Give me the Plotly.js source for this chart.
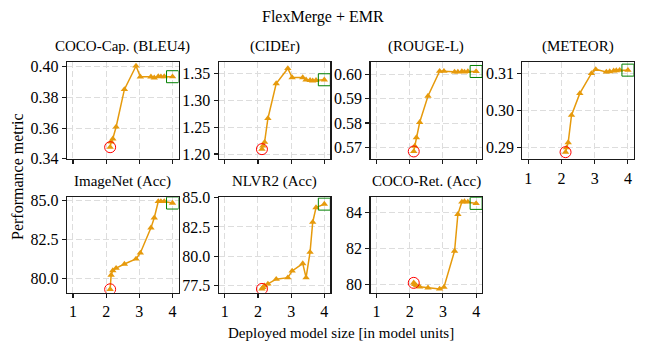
<!DOCTYPE html>
<html>
<head>
<meta charset="utf-8">
<script src="https://cdn.plot.ly/plotly-3.0.1.min.js"></script>
<style>
  html, body { margin: 0; padding: 0; background: #fff; }
  #chart { width: 646px; height: 354px; }
</style>
</head>
<body>
<div id="chart"></div>
<script>
// deployed model size (model units)
var modelSize = [2.12, 2.15, 2.2, 2.3, 2.55, 2.9, 3.03, 3.35, 3.45, 3.57, 3.65, 3.75, 4.0];

var bleu4    = [0.3475, 0.351, 0.353, 0.3607, 0.3852, 0.4005, 0.3934, 0.3934, 0.3928, 0.3937, 0.3935, 0.3936, 0.3935];
var cider    = [1.209, 1.215, 1.222, 1.266, 1.331, 1.359, 1.342, 1.342, 1.338, 1.337, 1.336, 1.337, 1.338];
var rougeL   = [0.5683, 0.5705, 0.574, 0.5803, 0.5911, 0.6013, 0.6013, 0.601, 0.601, 0.6012, 0.601, 0.6012, 0.6012];
var meteor   = [0.2888, 0.290, 0.2914, 0.2988, 0.3047, 0.3101, 0.3112, 0.3105, 0.3106, 0.3108, 0.3109, 0.311, 0.311];
var imagenet = [79.29, 80.21, 80.5, 80.65, 80.92, 81.25, 81.63, 83.25, 83.9, 84.95, 84.95, 84.95, 84.85];
var nlvr2    = [77.22, 77.35, 77.5, 77.65, 78.05, 78.18, 78.75, 79.38, 78.18, 80.35, 82.9, 84.15, 84.44];
var cocoRet  = [80.08, 80.0, 79.92, 79.86, 79.8, 79.74, 79.84, 81.86, 83.91, 84.6, 84.62, 84.6, 84.52];

var panelTitles = ['COCO-Cap. (BLEU4)', '(CIDEr)', '(ROUGE-L)', '(METEOR)',
                   'ImageNet (Acc)', 'NLVR2 (Acc)', 'COCO-Ret. (Acc)'];
var xTicks = [1, 2, 3, 4];
var yTicks = [
  [0.34, 0.36, 0.38, 0.40],
  [1.20, 1.25, 1.30, 1.35],
  [0.57, 0.58, 0.59, 0.60],
  [0.29, 0.30, 0.31],
  [80.0, 82.5, 85.0],
  [77.5, 80.0, 82.5, 85.0],
  [80, 82, 84]
];

document.addEventListener('DOMContentLoaded', function() {

  var series = [bleu4, cider, rougeL, meteor, imagenet, nlvr2, cocoRet];
  var yFormats = ['.2f', '.2f', '.2f', '.2f', '.1f', '.1f', 'd'];
  var yRanges = [
    [0.3398, 0.4031], [1.1907, 1.371], [0.5652, 0.6051], [0.28695, 0.3132],
    [79.07, 85.22], [76.9, 85.02], [79.53, 84.86]
  ];

  var W = 646, H = 354;
  var font = "'Liberation Serif', 'Times New Roman', serif";
  var orange = '#E69A0C';

  var data = [];
  var layout = {
    width: W, height: H,
    margin: {l: 0, r: 0, t: 0, b: 0},
    paper_bgcolor: 'white',
    plot_bgcolor: 'white',
    showlegend: false,
    font: {family: font, size: 15, color: '#000'},
    annotations: []
  };

  for (var i = 0; i < series.length; i++) {
    var row = i < 4 ? 0 : 1;
    var col = i < 4 ? i : i - 4;
    var left = 67 + col * 151.8;
    var top = row === 0 ? 62 : 197.3;
    var bottom = row === 0 ? 159 : 292.7;
    var n = i + 1;
    var xa = n === 1 ? 'x' : 'x' + n;
    var ya = n === 1 ? 'y' : 'y' + n;
    var ys = series[i];

    data.push({
      x: modelSize, y: ys, xaxis: xa, yaxis: ya,
      mode: 'lines+markers',
      line: {color: orange, width: 1.5},
      marker: {symbol: 'triangle-up', size: 6.5, color: orange}
    });
    // first point: red circle
    data.push({
      x: [modelSize[0]], y: [ys[0]], xaxis: xa, yaxis: ya,
      mode: 'markers',
      marker: {symbol: 'circle-open', size: 11, color: 'red', line: {width: 1}}
    });
    // last point: green square
    data.push({
      x: [modelSize[modelSize.length - 1]], y: [ys[ys.length - 1]], xaxis: xa, yaxis: ya,
      mode: 'markers',
      marker: {symbol: 'square-open', size: 12, color: 'green', line: {width: 1}}
    });

    var showXLabels = row === 1 || col === 3;
    var axisCommon = {
      showline: true, mirror: true, linecolor: '#1a1a1a', linewidth: 1.3,
      ticks: 'outside', ticklen: 4, tickwidth: 1.1, tickcolor: '#1a1a1a',
      showgrid: true, gridcolor: '#dddddd', griddash: '6px,3px', gridwidth: 1,
      zeroline: false,
      tickfont: {family: font, size: 16, color: '#000'}
    };

    layout['xaxis' + (n === 1 ? '' : n)] = Object.assign({}, axisCommon, {
      domain: [left / W, (left + 111.5) / W],
      anchor: ya,
      range: [0.82, 4.18],
      tickvals: xTicks,
      showticklabels: showXLabels
    });
    layout['yaxis' + (n === 1 ? '' : n)] = Object.assign({}, axisCommon, {
      domain: [1 - bottom / H, 1 - top / H],
      anchor: xa,
      range: yRanges[i],
      tickvals: yTicks[i],
      tickformat: yFormats[i]
    });

    layout.annotations.push({
      text: panelTitles[i], xref: 'paper', yref: 'paper',
      x: (left + 55.75) / W, y: 1 - (top - 5) / H,
      xanchor: 'center', yanchor: 'bottom', showarrow: false,
      font: {family: font, size: 15, color: '#000'}
    });
  }

  layout.annotations.push({
    text: 'FlexMerge + EMR', xref: 'paper', yref: 'paper',
    x: 323 / W, y: 1 - 17 / H, xanchor: 'center', yanchor: 'middle',
    showarrow: false, font: {family: font, size: 16, color: '#000'}
  });
  layout.annotations.push({
    text: 'Performance metric', xref: 'paper', yref: 'paper',
    x: 17 / W, y: 1 - 177 / H, xanchor: 'center', yanchor: 'middle',
    textangle: -90, showarrow: false, font: {family: font, size: 16, color: '#000'}
  });
  layout.annotations.push({
    text: 'Deployed model size [in model units]', xref: 'paper', yref: 'paper',
    x: 341 / W, y: 1 - 333 / H, xanchor: 'center', yanchor: 'middle',
    showarrow: false, font: {family: font, size: 15, color: '#000'}
  });

  var config = {responsive: false, displayModeBar: false, staticPlot: true};

  Plotly.newPlot('chart', data, layout, config);
});
</script>
</body>
</html>
